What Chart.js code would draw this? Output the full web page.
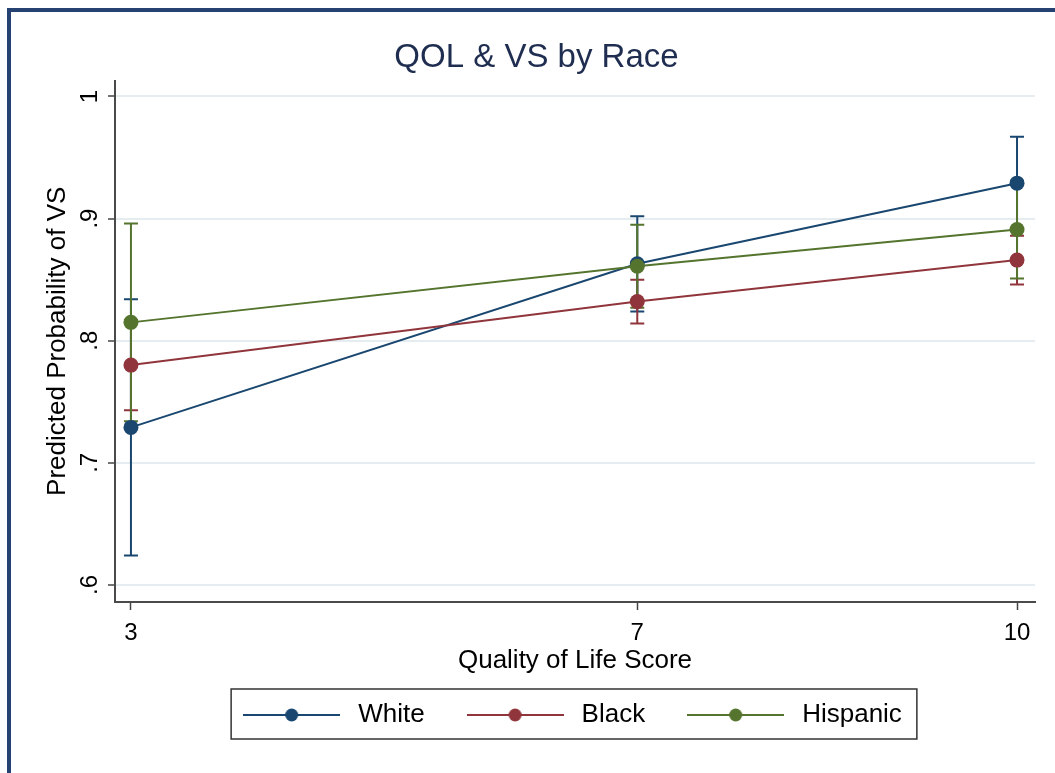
<!DOCTYPE html>
<html>
<head>
<meta charset="utf-8">
<title>QOL & VS by Race</title>
<script src="https://cdn.jsdelivr.net/npm/chart.js@4"></script>
<style>
  html, body { margin: 0; padding: 0; background: #ffffff; }
  #wrap { position: relative; width: 1055px; height: 773px; overflow: hidden; }
  #frame {
    position: absolute; left: 7px; top: 8px; right: -10px; bottom: -10px;
    border-left: 4px solid #264273; border-top: 4px solid #264273;
  }
  #chart { position: absolute; left: 0; top: 0; }
</style>
</head>
<body>
<div id="wrap">
  <div id="frame"></div>
  <canvas id="chart" width="1055" height="773"></canvas>
</div>
<script>
// Quality of life score levels (x) and y-axis tick values
const qolScores = [3, 7, 10];
const xTickValues = [3, 7, 10];
const yTickValues = [0.6, 0.7, 0.8, 0.9, 1];

// Predicted probability of VS with 95% confidence limits
const whiteProb = [0.729, 0.863, 0.929];
const whiteLow  = [0.624, 0.824, 0.891];
const whiteHigh = [0.834, 0.902, 0.967];

const blackProb = [0.780, 0.832, 0.866];
const blackLow  = [0.743, 0.814, 0.846];
const blackHigh = [0.817, 0.850, 0.886];

const hispProb = [0.815, 0.861, 0.891];
const hispLow  = [0.734, 0.827, 0.851];
const hispHigh = [0.896, 0.895, 0.931];

const seriesNames = ['White', 'Black', 'Hispanic'];
const seriesColors = ['#1a476f', '#90353b', '#55752f'];

const FONT = "'Liberation Sans', Arial, Helvetica, sans-serif";

function pts(values) {
  return qolScores.map((q, i) => ({ x: q, y: values[i] }));
}

function makeDataset(idx, values, low, high, order) {
  const c = seriesColors[idx];
  return {
    label: seriesNames[idx],
    data: pts(values),
    low: low,
    high: high,
    borderColor: c,
    backgroundColor: c,
    borderWidth: 2,
    pointRadius: 7.5,
    pointHoverRadius: 7.5,
    pointBackgroundColor: c,
    pointBorderWidth: 0,
    tension: 0,
    fill: false,
    order: order
  };
}

// Legend key: a short line with the marker in its middle
function legendIcon(color) {
  const cv = document.createElement('canvas');
  cv.width = 97; cv.height = 16;
  const g = cv.getContext('2d');
  g.strokeStyle = color;
  g.lineWidth = 2;
  g.beginPath(); g.moveTo(0, 8); g.lineTo(97, 8); g.stroke();
  g.fillStyle = color;
  g.beginPath(); g.arc(48.5, 8, 6.5, 0, Math.PI * 2); g.fill();
  return cv;
}

// Confidence interval caps, drawn under the lines
const ciBars = {
  id: 'ciBars',
  beforeDatasetsDraw(chart) {
    const { ctx, scales: { x, y } } = chart;
    chart.data.datasets.forEach((ds, i) => {
      ctx.save();
      ctx.strokeStyle = ds.borderColor;
      ctx.lineWidth = 2;
      ds.data.forEach((p, j) => {
        const px = x.getPixelForValue(p.x);
        const yl = y.getPixelForValue(ds.low[j]);
        const yh = y.getPixelForValue(ds.high[j]);
        const cap = 7;
        ctx.beginPath();
        ctx.moveTo(px, yl); ctx.lineTo(px, yh);
        ctx.moveTo(px - cap, yl); ctx.lineTo(px + cap, yl);
        ctx.moveTo(px - cap, yh); ctx.lineTo(px + cap, yh);
        ctx.stroke();
      });
      ctx.restore();
    });
  }
};

// Centre the legend under the plot region and frame it
const legendFrame = {
  id: 'legendFrame',
  afterLayout(chart) {
    const lg = chart.legend, ca = chart.chartArea;
    const dx = (ca.left + ca.right) / 2 - 5 - (lg.left + lg.right) / 2;
    lg.left += dx; lg.right += dx;
    lg.top -= 17; lg.bottom -= 17;
  },
  afterDraw(chart) {
    const hb = chart.legend.legendHitBoxes;
    if (!hb || !hb.length) return;
    const last = hb[hb.length - 1];
    const cy = hb[0].top + hb[0].height / 2;
    const left = hb[0].left - 7;
    const right = last.left + last.width + 15;
    const ctx = chart.ctx;
    ctx.save();
    ctx.strokeStyle = '#333333';
    ctx.lineWidth = 1.5;
    ctx.strokeRect(left, cy - 26, right - left, 50);
    ctx.restore();
  }
};

new Chart(document.getElementById('chart'), {
  type: 'line',
  data: {
    datasets: [
      makeDataset(0, whiteProb, whiteLow, whiteHigh, 3),
      makeDataset(1, blackProb, blackLow, blackHigh, 2),
      makeDataset(2, hispProb, hispLow, hispHigh, 1)
    ]
  },
  options: {
    responsive: false,
    animation: false,
    devicePixelRatio: 1,
    layout: { padding: { left: 38, right: 20, top: 0, bottom: 18 } },
    plugins: {
      tooltip: { enabled: false },
      title: {
        display: true,
        text: 'QOL & VS by Race',
        color: '#1f2d50',
        font: { family: FONT, size: 33, weight: 'normal' },
        padding: { top: 38, bottom: 3 }
      },
      legend: {
        display: true,
        position: 'bottom',
        labels: {
          usePointStyle: true,
          pointStyleWidth: 107,
          padding: 37,
          color: '#000000',
          font: { family: FONT, size: 26 },
          generateLabels(chart) {
            return chart.data.datasets.map((ds, i) => ({
              text: ds.label,
              fillStyle: ds.borderColor,
              strokeStyle: ds.borderColor,
              lineWidth: 0,
              pointStyle: legendIcon(ds.borderColor),
              hidden: false,
              datasetIndex: i,
              fontColor: '#000000'
            }));
          }
        }
      }
    },
    scales: {
      x: {
        type: 'linear',
        min: 2.874,
        max: 10.142,
        afterBuildTicks(scale) { scale.ticks = xTickValues.map(v => ({ value: v })); },
        afterFit(scale) { scale.height = 80; },
        ticks: {
          color: '#000000',
          font: { family: FONT, size: 24 },
          padding: 8.5,
          maxRotation: 0,
          autoSkip: false,
          callback: v => String(v)
        },
        grid: {
          drawOnChartArea: false,
          tickLength: 8,
          tickColor: '#444444',
          tickWidth: 1.5
        },
        border: { color: '#4a4a4a', width: 2 },
        title: {
          display: true,
          text: 'Quality of Life Score',
          color: '#000000',
          font: { family: FONT, size: 26 },
          padding: { top: 0, bottom: 5.4 }
        }
      },
      y: {
        type: 'linear',
        min: 0.586,
        max: 1.013,
        afterBuildTicks(scale) { scale.ticks = yTickValues.map(v => ({ value: v })); },
        afterFit(scale) { scale.width = 77; },
        ticks: {
          color: '#000000',
          font: { family: FONT, size: 24 },
          padding: 8,
          minRotation: 90,
          maxRotation: 90,
          crossAlign: 'center',
          autoSkip: false,
          callback: v => (v === 1 ? '1' : v.toFixed(1).replace(/^0/, ''))
        },
        grid: {
          color: '#e6edf1',
          lineWidth: 2,
          tickLength: 7,
          tickColor: '#444444',
          tickWidth: 1.5
        },
        border: { color: '#4a4a4a', width: 2 },
        title: {
          display: true,
          text: 'Predicted Probability of VS',
          color: '#000000',
          font: { family: FONT, size: 26 },
          padding: { top: 4.5, bottom: 0 }
        }
      }
    }
  },
  plugins: [ciBars, legendFrame]
});
</script>
</body>
</html>
